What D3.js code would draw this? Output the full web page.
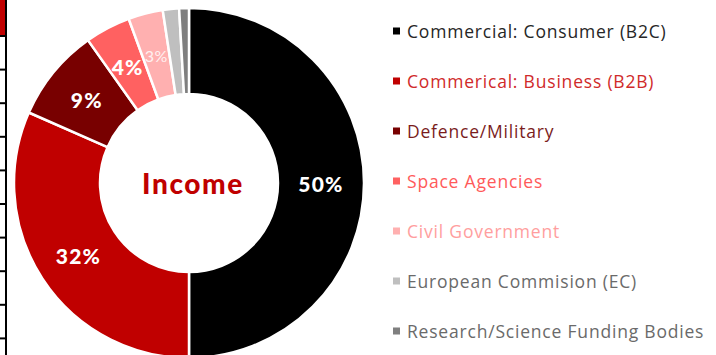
<!DOCTYPE html>
<html>
<head>
<meta charset="utf-8">
<script src="https://cdn.jsdelivr.net/npm/d3@7/dist/d3.min.js"></script>
<style>
  html, body { margin: 0; padding: 0; background: #fff; }
  svg { display: block; }
</style>
</head>
<body>
<svg id="chart" width="716" height="355"></svg>
<script>
// Income split by customer type (percent of total)
const categories = [
  "Commercial: Consumer (B2C)",
  "Commerical: Business (B2B)",
  "Defence/Military",
  "Space Agencies",
  "Civil Government",
  "European Commision (EC)",
  "Research/Science Funding Bodies"
];
const shares = [50, 31.6, 8.6, 4.2, 3.2, 1.5, 0.9];
const sliceColors = ["#000000", "#c00000", "#780000", "#ff6161", "#ffb0b0", "#bfbfbf", "#7f7f7f"];
const legendTextColors = ["#262626", "#d02a2a", "#7a1c1c", "#ff5a5a", "#ff9e9e", "#6a6a6a", "#6a6a6a"];
const centerTitle = "Income";
// slices whose share is printed, and how the label is styled
const labelStyle = ["bold", "bold", "bold", "bold", "light", "none", "none"];

const svg = d3.select("#chart");
const W = 716, H = 355;

// frame edge of the neighbouring table on the left
const edge = svg.append("g");
edge.append("rect").attr("x", 0).attr("y", 0).attr("width", 5).attr("height", 35).attr("fill", "#c00000");
edge.append("line").attr("x1", 6).attr("x2", 6).attr("y1", 0).attr("y2", H)
  .attr("stroke", "#000").attr("stroke-width", 2);
const rowY = d3.scaleLinear().domain([0, 10]).range([2.4, 338.4]);
edge.selectAll("line.row").data(d3.range(1, 11)).join("line")
  .attr("class", "row")
  .attr("x1", 0).attr("x2", 6)
  .attr("y1", d => rowY(d)).attr("y2", d => rowY(d))
  .attr("stroke", "#000").attr("stroke-width", 2);

// donut
const cx = 189, cy = 183, rOuter = 175, rInner = 89;
const total = d3.sum(shares);
const pie = d3.pie().sort(null).value(d => d.value);
const arcs = pie(shares.map((v, i) => ({ value: v, i })));
const arc = d3.arc().innerRadius(rInner).outerRadius(rOuter);
const labelArc = d3.arc().innerRadius(132).outerRadius(132);

const g = svg.append("g").attr("transform", `translate(${cx},${cy})`);
g.selectAll("path").data(arcs).join("path")
  .attr("d", arc)
  .attr("fill", d => sliceColors[d.data.i])
  .attr("stroke", "#fff")
  .attr("stroke-width", 2.5)
  .attr("stroke-linejoin", "miter");

g.selectAll("text.pct").data(arcs.filter(d => labelStyle[d.data.i] !== "none")).join("text")
  .attr("class", "pct")
  .attr("transform", d => `translate(${labelArc.centroid(d)})`)
  .attr("text-anchor", "middle")
  .attr("dominant-baseline", "central")
  .attr("font-family", "Lato, 'Open Sans', sans-serif")
  .attr("font-weight", d => labelStyle[d.data.i] === "bold" ? 900 : 400)
  .attr("font-size", d => labelStyle[d.data.i] === "bold" ? 21 : 16)
  .attr("letter-spacing", d => labelStyle[d.data.i] === "bold" ? 1.2 : 0.5)
  .attr("fill", d => labelStyle[d.data.i] === "bold" ? "#fff" : "#fff0f0")
  .text(d => Math.round(d.data.value / total * 100) + "%");

g.append("text")
  .attr("x", 4).attr("y", 0)
  .attr("text-anchor", "middle")
  .attr("dominant-baseline", "central")
  .attr("font-family", "Lato, 'Open Sans', sans-serif")
  .attr("font-weight", 900)
  .attr("font-size", 28)
  .attr("letter-spacing", 1.6)
  .attr("fill", "#c00000")
  .text(centerTitle);

// legend
const legendY = d3.scalePoint().domain(categories).range([31, 331]);
const legend = svg.append("g");
const item = legend.selectAll("g").data(categories).join("g")
  .attr("transform", d => `translate(393,${legendY(d)})`);
item.append("rect")
  .attr("x", 0).attr("y", -3.5).attr("width", 7).attr("height", 7)
  .attr("fill", (d, i) => sliceColors[i]);
item.append("text")
  .attr("x", 14).attr("y", 0)
  .attr("dominant-baseline", "central")
  .attr("font-family", "'Open Sans', sans-serif")
  .attr("font-size", 17.5)
  .attr("letter-spacing", 0.8)
  .attr("fill", (d, i) => legendTextColors[i])
  .text(d => d);
</script>
</body>
</html>
